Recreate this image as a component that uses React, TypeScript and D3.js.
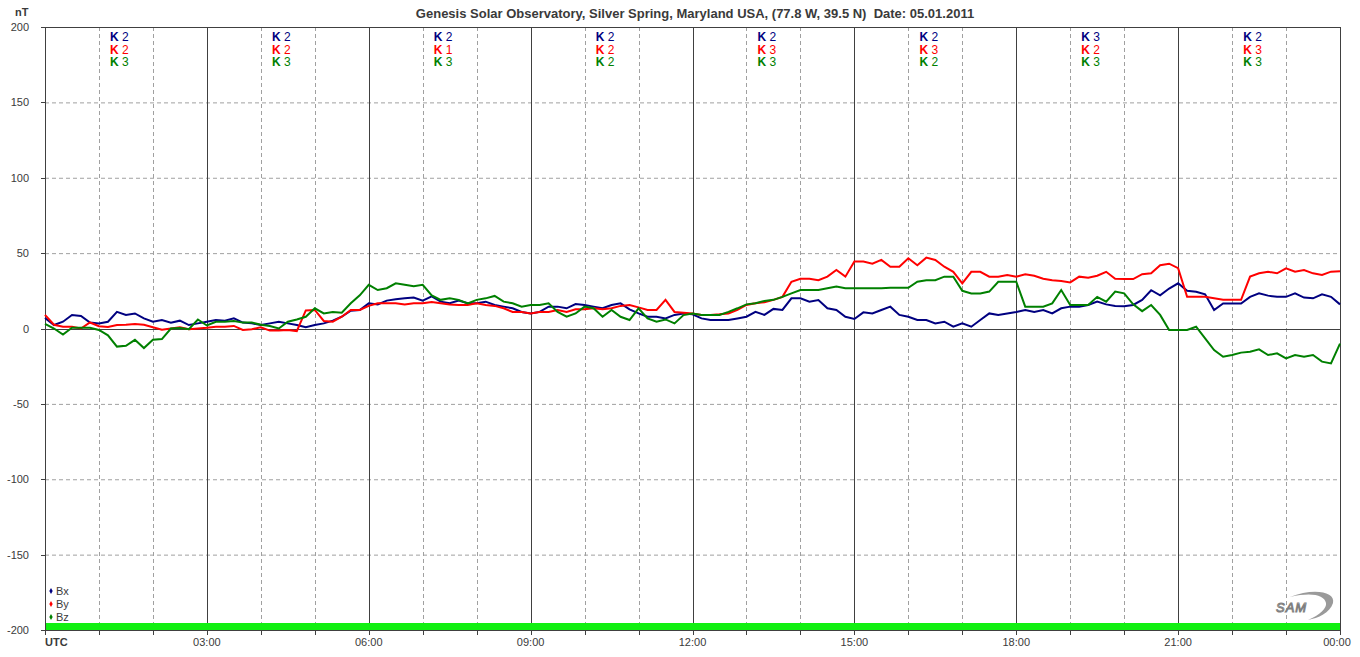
import { useRef, useEffect } from "react";
import * as d3 from "d3";

// magnetometer samples every 10 minutes, 00:00 .. 24:00 UTC (nT)
const minutes = d3.range(0, 1441, 10);

const bx = [
  7, 2.3, 4.5, 9, 8.3, 3.9, 3.4, 4.5, 11, 9, 10, 6.7, 4.5, 5.6, 3.9, 5.2, 2.3, 3.4, 4.5, 5.6, 5.2, 6.7, 3.9, 3.4,
  2.3, 3.4, 4.5, 3.4, 2.3, 0.8, 2.3, 3.4, 5.2, 7.8, 11.8, 12.3, 16.7, 16, 18.5, 19.4, 20, 20.6, 18.5, 21.3, 17.8, 16.7, 18.5, 16.7,
  16.7, 17.8, 15.6, 14.5, 13.4, 11, 10, 11, 14.5, 14.5, 13.4, 16.2, 15.6, 14.5, 13.4, 15.6, 16.7, 12.7, 10, 7.8, 7.8, 6.7, 9, 10,
  9.4, 6.7, 5.6, 5.6, 5.6, 6.7, 7.8, 11, 9, 13, 12.3, 20, 20, 17.8, 18.9, 13.4, 12.3, 7.8, 6.3, 10.7, 10, 12.3, 14.5, 9,
  7.8, 5.6, 5.6, 3.4, 4.5, 1.2, 3.4, 1.2, 5.6, 10, 9, 10, 11, 12.3, 11, 12.3, 10, 13.4, 14.5, 14.5, 15.6, 17.8, 16, 15,
  14.8, 15.6, 19, 25.4, 22, 26.5, 30, 25, 24.4, 22.7, 12.3, 16.6, 16.6, 16.6, 21, 23.3, 21.8, 21, 21, 23.3, 20.5, 20, 22.7, 21,
  16,
];

const by = [
  9, 2.5, 1.2, 1.2, 0, 4, 1.5, 1, 2.3, 2.5, 3, 2.5, 0.8, -0.8, 0, 0.8, -0.5, 0, 0.5, 1.2, 1.2, 1.7, -1, -0.5,
  0.8, -1.4, -1.4, -1, -1.7, 12, 12.3, 5, 4.5, 7.8, 12.3, 12.3, 15, 16.7, 16.7, 16.7, 16, 16.7, 16.7, 17.5, 16.7, 16, 15.6, 15.6,
  16.7, 15.6, 15, 13.4, 11, 11, 10, 11, 11, 12.3, 11, 12.7, 12.7, 13.4, 12.7, 13.4, 15, 15.6, 14, 12.3, 12.3, 19, 11, 10.5,
  10, 9, 9, 9.4, 10, 12.3, 15.6, 16.7, 17.4, 19, 21, 31, 33, 33, 32, 34.4, 38.8, 34.4, 44.4, 44.4, 43, 45.5, 41, 41,
  46.6, 42, 47, 45.5, 41, 37.6, 30, 37.6, 37.6, 34.4, 34.4, 35.5, 34.4, 36, 35, 33, 32, 31.5, 30.6, 34.4, 33.6, 35, 37.6, 33,
  32.8, 32.8, 36, 36.6, 42, 43, 40, 21, 21, 21, 20, 19, 19, 19, 34.4, 36.6, 37.7, 36.6, 39.9, 37.7, 38.8, 36.6, 35.5, 37.7,
  38,
];

const bz = [
  3, 0, -4, 0.5, 0.5, 0.5, -1, -4.5, -12, -11.5, -7.5, -13, -7.5, -7, 0, 0.3, -0.5, 6, 2, 4.5, 4.5, 5, 3.9, 3.9,
  2.5, 1.7, 0, 4.5, 6, 7.8, 13.4, 10, 11, 10.5, 16.7, 22, 29, 25.5, 26.7, 30, 29, 28, 29, 22, 19, 20, 19, 16.7,
  19, 20, 21.6, 17.8, 16.7, 14.5, 15.6, 15.6, 16.7, 11, 7.8, 10, 14.5, 13.4, 7.8, 12.3, 7.8, 5.6, 13.4, 6.7, 4.5, 6, 3.4, 8.9,
  10, 9, 9, 9, 11, 13.4, 16, 16.7, 18.3, 19, 21, 23.3, 25.5, 25.5, 25.5, 26.7, 27.8, 26.7, 26.7, 26.7, 26.7, 26.7, 27, 27,
  27, 31, 32, 32, 34.4, 34.4, 25, 23.3, 23.3, 24.5, 31, 31, 31, 14.5, 14.5, 14.5, 16.7, 25.5, 15.6, 15.6, 15.6, 21, 17.8, 24.5,
  23.3, 16, 11.5, 15.6, 9, -1, -1, -1, 1.2, -6.5, -14.3, -18.7, -17.6, -16, -15.4, -13.8, -17.6, -16.5, -19.8, -17.6, -18.7, -17.6, -22, -23.2,
  -10,
];

// K index per 3-hour block
const kBx = [2, 2, 2, 2, 2, 2, 3, 2];
const kBy = [2, 2, 1, 2, 3, 3, 2, 3];
const kBz = [3, 3, 3, 2, 3, 2, 3, 3];

const yTicks = [-200, -150, -100, -50, 0, 50, 100, 150, 200];
const hourLabels = ["03:00", "06:00", "09:00", "12:00", "15:00", "18:00", "21:00", "00:00"];

const SERIES = [
  { name: "Bx", values: bx, k: kBx, color: "#000080" },
  { name: "By", values: by, k: kBy, color: "#ff0000" },
  { name: "Bz", values: bz, k: kBz, color: "#008000" },
];

const FONT = "Arial, 'Liberation Sans', sans-serif";
const TXT = "#3a3a3a";

export default function App() {
  const svgRef = useRef<SVGSVGElement>(null);

  useEffect(() => {
    document.body.style.margin = "0";
    if (!svgRef.current) return;
    const svg = d3.select(svgRef.current);
    svg.selectAll("*").remove();

    const width = 1360;
    const height = 657;
    const left = 45;
    const right = 1340;
    const top = 27;
    const bottom = 630;

    const x = d3.scaleLinear().domain([0, 1440]).range([left, right]);
    const y = d3.scaleLinear().domain([-200, 200]).range([bottom, top]);

    svg.attr("width", width).attr("height", height).style("font-family", FONT);
    svg.append("rect").attr("width", width).attr("height", height).attr("fill", "#fff");

    // horizontal grid
    svg
      .append("g")
      .selectAll("line")
      .data(yTicks.filter((d) => d !== 0 && d !== 200 && d !== -200))
      .join("line")
      .attr("x1", left)
      .attr("x2", right)
      .attr("y1", (d) => y(d) + 0.5)
      .attr("y2", (d) => y(d) + 0.5)
      .attr("stroke", "#a0a0a0")
      .attr("stroke-dasharray", "4,3");

    // vertical grid: dashed hourly, solid every 3 hours
    const hours = d3.range(60, 1440, 60);
    svg
      .append("g")
      .selectAll("line")
      .data(hours)
      .join("line")
      .attr("x1", (d) => Math.round(x(d)) + 0.5)
      .attr("x2", (d) => Math.round(x(d)) + 0.5)
      .attr("y1", top)
      .attr("y2", bottom)
      .attr("stroke", (d) => (d % 180 === 0 ? "#404040" : "#a0a0a0"))
      .attr("stroke-dasharray", (d) => (d % 180 === 0 ? null : "4,3"));

    // green band along bottom
    svg
      .append("rect")
      .attr("x", left)
      .attr("y", bottom - 7)
      .attr("width", right - left)
      .attr("height", 7)
      .attr("fill", "#11f011");

    // zero line and frame
    svg
      .append("line")
      .attr("x1", left)
      .attr("x2", right)
      .attr("y1", Math.round(y(0)) + 0.5)
      .attr("y2", Math.round(y(0)) + 0.5)
      .attr("stroke", "#404040");
    svg
      .append("rect")
      .attr("x", left + 0.5)
      .attr("y", top + 0.5)
      .attr("width", right - left)
      .attr("height", bottom - top)
      .attr("fill", "none")
      .attr("stroke", "#404040");

    // tick marks
    svg
      .append("g")
      .selectAll("line")
      .data(yTicks)
      .join("line")
      .attr("x1", left - 4)
      .attr("x2", left)
      .attr("y1", (d) => Math.round(y(d)) + 0.5)
      .attr("y2", (d) => Math.round(y(d)) + 0.5)
      .attr("stroke", "#404040");
    svg
      .append("g")
      .selectAll("line")
      .data(d3.range(0, 1441, 60))
      .join("line")
      .attr("x1", (d) => Math.round(x(d)) + 0.5)
      .attr("x2", (d) => Math.round(x(d)) + 0.5)
      .attr("y1", bottom)
      .attr("y2", bottom + 5)
      .attr("stroke", "#404040");

    // y labels
    svg
      .append("g")
      .selectAll("text")
      .data(yTicks)
      .join("text")
      .attr("x", 29)
      .attr("y", (d) => y(d) + 4)
      .attr("text-anchor", "end")
      .style("font-size", "11px")
      .style("fill", TXT)
      .text((d) => String(d));
    svg
      .append("text")
      .attr("x", 15)
      .attr("y", 16)
      .style("font-size", "11px")
      .style("font-weight", "bold")
      .style("fill", TXT)
      .text("nT");

    // x labels
    svg
      .append("g")
      .selectAll("text")
      .data(hourLabels)
      .join("text")
      .attr("x", (_d, i) => x((i + 1) * 180) - (i === hourLabels.length - 1 ? 3 : 0))
      .attr("y", 646)
      .attr("text-anchor", "middle")
      .style("font-size", "11px")
      .style("fill", TXT)
      .text((d) => d);
    svg
      .append("text")
      .attr("x", left)
      .attr("y", 646)
      .style("font-size", "11px")
      .style("font-weight", "bold")
      .style("fill", TXT)
      .text("UTC");

    // title
    svg
      .append("text")
      .attr("x", 695)
      .attr("y", 18)
      .attr("text-anchor", "middle")
      .attr("xml:space", "preserve")
      .style("white-space", "pre")
      .style("font-size", "13px")
      .style("font-weight", "bold")
      .style("fill", TXT)
      .text("Genesis Solar Observatory, Silver Spring, Maryland USA, (77.8 W, 39.5 N)  Date: 05.01.2011");

    // K indices
    SERIES.forEach((s, si) => {
      const t = svg
        .append("g")
        .selectAll("text")
        .data(s.k)
        .join("text")
        .attr("x", (_d, i) => x(i * 180) + 65)
        .attr("y", 41 + si * 12.5)
        .style("font-size", "12px")
        .style("fill", s.color);
      t.append("tspan").style("font-weight", "bold").text("K ");
      t.append("tspan").text((d) => String(d));
    });

    // series lines
    const line = d3
      .line<number>()
      .x((_d, i) => x(minutes[i]))
      .y((d) => y(d));
    SERIES.forEach((s) => {
      svg
        .append("path")
        .datum(s.values)
        .attr("d", line)
        .attr("fill", "none")
        .attr("stroke", s.color)
        .attr("stroke-width", 2)
        .attr("stroke-linejoin", "miter");
    });

    // legend
    const leg = svg.append("g").attr("transform", "translate(51,591)");
    SERIES.forEach((s, i) => {
      leg
        .append("path")
        .attr("d", d3.symbol(d3.symbolDiamond, 10)())
        .attr("transform", `translate(0,${i * 13})`)
        .attr("fill", s.color);
      leg
        .append("text")
        .attr("x", 5)
        .attr("y", i * 13 + 4)
        .style("font-size", "11px")
        .style("fill", TXT)
        .text(s.name);
    });

    // SAM logo
    const logo = svg.append("g").attr("transform", "translate(1276,600)");
    logo
      .append("path")
      .attr("d", "M14,-3 C36,-12 60,-9 57,3 C54,13 42,18 32,20 C44,15 51,8 50,3 C48,-5 36,-8 14,-3 Z")
      .attr("fill", "#9a9a9a");
    logo
      .append("text")
      .attr("x", 0)
      .attr("y", 12)
      .style("font-size", "13px")
      .style("font-style", "italic")
      .style("letter-spacing", "1px")
      .style("fill", "#fff")
      .style("stroke", "#808080")
      .style("stroke-width", 1)
      .text("SAM");

    return () => {
      svg.selectAll("*").remove();
    };
  }, []);

  return <svg ref={svgRef} style={{ display: "block" }} />;
}
